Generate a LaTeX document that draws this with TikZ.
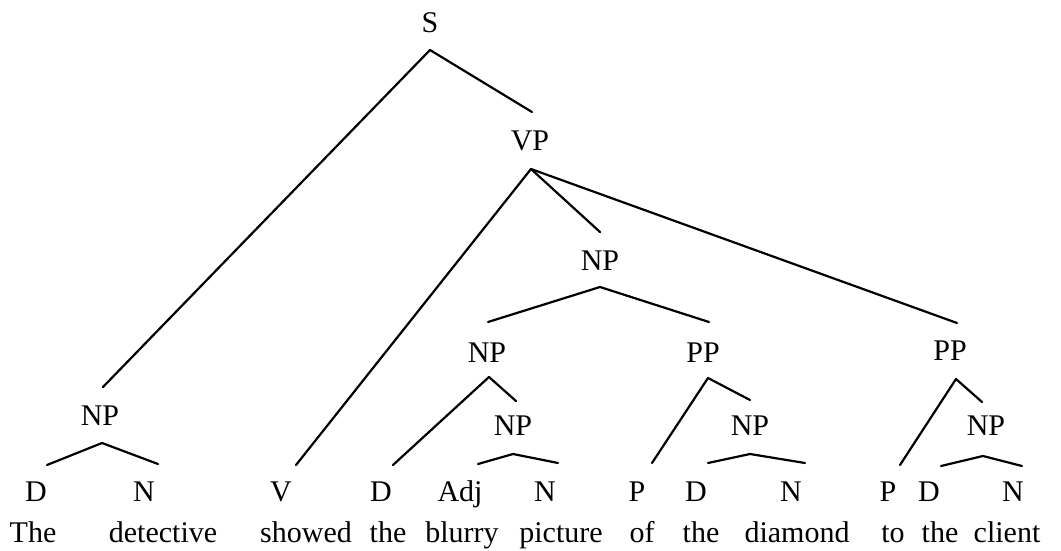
\documentclass[tikz,border=0pt]{standalone}
\usepackage{fontspec}
\setmainfont{Liberation Serif}
\begin{document}
\begin{tikzpicture}[x=1pt,y=-1pt,
  lbl/.style={anchor=base,inner sep=0pt,font=\fontsize{30}{36}\selectfont},
  branch/.style={line width=2.2pt,line cap=round,line join=round}]
\useasboundingbox (0,0) rectangle (1061,550);
% category labels
\node[lbl] (S) at (430,32) {S};
\node[lbl] (VP) at (530,150) {VP};
\node[lbl] (NPa) at (100,425) {NP};
\node[lbl] (NPb) at (600,270) {NP};
\node[lbl] (NPc) at (487,362) {NP};
\node[lbl] (PPa) at (703,362) {PP};
\node[lbl] (PPb) at (950,360) {PP};
\node[lbl] (NPd) at (513,435) {NP};
\node[lbl] (NPe) at (750,435) {NP};
\node[lbl] (NPf) at (986,435) {NP};
% preterminals
\node[lbl] (D1) at (36,501) {D};
\node[lbl] (N1) at (144,501) {N};
\node[lbl] (V1) at (281,501) {V};
\node[lbl] (D2) at (381,501) {D};
\node[lbl] (A1) at (460,501) {Adj};
\node[lbl] (N2) at (545,501) {N};
\node[lbl] (P1) at (637,501) {P};
\node[lbl] (D3) at (696,501) {D};
\node[lbl] (N3) at (791,501) {N};
\node[lbl] (P2) at (888,501) {P};
\node[lbl] (D4) at (929,501) {D};
\node[lbl] (N4) at (1013,501) {N};
% words
\node[lbl] (w1) at (33,542) {The};
\node[lbl] (w2) at (163,542) {detective};
\node[lbl] (w3) at (306,542) {showed};
\node[lbl] (w4) at (388,542) {the};
\node[lbl] (w5) at (462,542) {blurry};
\node[lbl] (w6) at (561,542) {picture};
\node[lbl] (w7) at (642,542) {of};
\node[lbl] (w8) at (701,542) {the};
\node[lbl] (w9) at (797,542) {diamond};
\node[lbl] (w10) at (893,542) {to};
\node[lbl] (w11) at (940,542) {the};
\node[lbl] (w12) at (1007,542) {client};
% branch points
\coordinate (Sb) at (430,50);
\coordinate (VPt) at (532,112);
\coordinate (VPb) at (531,169);
\coordinate (NPat) at (103,387);
\coordinate (NPab) at (102,443);
\coordinate (NPbt) at (600,232);
\coordinate (NPbb) at (600,287);
\coordinate (NPct) at (488,322);
\coordinate (NPcb) at (489,377);
\coordinate (PPat) at (709,322);
\coordinate (PPab) at (708,378);
\coordinate (PPbt) at (957,323);
\coordinate (PPbb) at (956,379);
\coordinate (NPdt) at (516,401);
\coordinate (NPdb) at (513,454);
\coordinate (NPet) at (750,400);
\coordinate (NPeb) at (750,454);
\coordinate (NPft) at (982,402);
\coordinate (NPfb) at (983,456);
\coordinate (D1t) at (47,465);
\coordinate (N1t) at (158,464);
\coordinate (V1t) at (296,465);
\coordinate (D2t) at (393,465);
\coordinate (A1t) at (478,464);
\coordinate (N2t) at (558,463);
\coordinate (P1t) at (652,463);
\coordinate (D3t) at (708,463);
\coordinate (N3t) at (805,463);
\coordinate (P2t) at (900,465);
\coordinate (D4t) at (941,466);
\coordinate (N4t) at (1022,466);
% branches
\draw[branch] (NPat) -- (Sb) -- (VPt);
\draw[branch] (V1t) -- (VPb) -- (NPbt);
\draw[branch] (VPb) -- (PPbt);
\draw[branch] (D1t) -- (NPab) -- (N1t);
\draw[branch] (NPct) -- (NPbb) -- (PPat);
\draw[branch] (D2t) -- (NPcb) -- (NPdt);
\draw[branch] (A1t) -- (NPdb) -- (N2t);
\draw[branch] (P1t) -- (PPab) -- (NPet);
\draw[branch] (D3t) -- (NPeb) -- (N3t);
\draw[branch] (P2t) -- (PPbb) -- (NPft);
\draw[branch] (D4t) -- (NPfb) -- (N4t);
\end{tikzpicture}
\end{document}
